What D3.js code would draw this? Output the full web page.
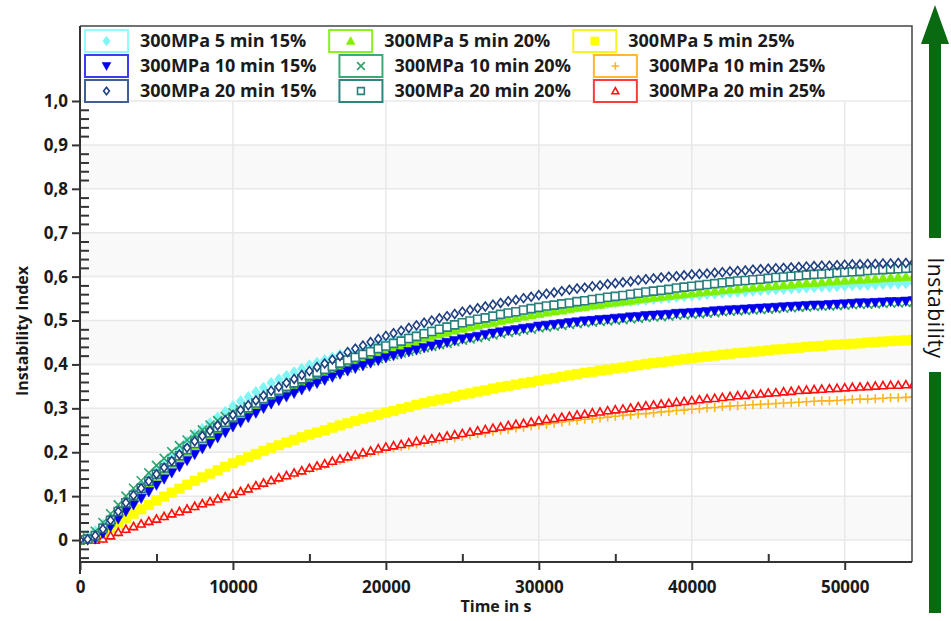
<!DOCTYPE html>
<html lang="en">
<head>
<meta charset="UTF-8">
<title>Instability Index</title>
<script src="https://cdnjs.cloudflare.com/ajax/libs/d3/7.8.5/d3.min.js"></script>
<style>
    body { margin: 0; background: #fff; }
    text { font-family: "Open Sans", "Noto Sans", sans-serif; }
</style>
</head>
<body>
<svg width="951" height="621"></svg>
<script>
    // time in s, one reading every 500 s
    const times = [
        0, 500, 1000, 1500, 2000, 2500, 3000, 3500, 4000, 4500,
        5000, 5500, 6000, 6500, 7000, 7500, 8000, 8500, 9000, 9500,
        10000, 10500, 11000, 11500, 12000, 12500, 13000, 13500, 14000, 14500,
        15000, 15500, 16000, 16500, 17000, 17500, 18000, 18500, 19000, 19500,
        20000, 20500, 21000, 21500, 22000, 22500, 23000, 23500, 24000, 24500,
        25000, 25500, 26000, 26500, 27000, 27500, 28000, 28500, 29000, 29500,
        30000, 30500, 31000, 31500, 32000, 32500, 33000, 33500, 34000, 34500,
        35000, 35500, 36000, 36500, 37000, 37500, 38000, 38500, 39000, 39500,
        40000, 40500, 41000, 41500, 42000, 42500, 43000, 43500, 44000, 44500,
        45000, 45500, 46000, 46500, 47000, 47500, 48000, 48500, 49000, 49500,
        50000, 50500, 51000, 51500, 52000, 52500, 53000, 53500, 54000, 54500];

    const s5_15 = [
        0, .010, .020, .035, .050, .070, .090, .108, .125, .143,
        .160, .176, .192, .208, .224, .240, .253, .266, .279, .292,
        .305, .316, .326, .337, .347, .358, .366, .374, .382, .390,
        .398, .404, .410, .416, .422, .428, .433, .438, .442, .447,
        .452, .456, .461, .465, .470, .474, .478, .482, .485, .489,
        .493, .496, .498, .501, .504, .507, .510, .512, .515, .517,
        .520, .522, .524, .527, .529, .531, .533, .535, .537, .539,
        .541, .543, .544, .546, .547, .549, .551, .552, .554, .555,
        .557, .558, .560, .561, .563, .564, .565, .566, .568, .569,
        .570, .571, .572, .573, .574, .575, .576, .577, .577, .578,
        .579, .580, .581, .581, .582, .583, .584, .584, .585, .586];
    const s5_20 = [
        0, .002, .008, .022, .040, .060, .080, .096, .113, .129,
        .145, .159, .173, .187, .201, .215, .227, .239, .251, .263,
        .275, .286, .296, .307, .317, .328, .336, .344, .352, .360,
        .368, .375, .382, .388, .395, .402, .408, .414, .420, .426,
        .432, .438, .443, .449, .454, .460, .464, .469, .473, .478,
        .482, .486, .489, .493, .496, .500, .503, .506, .510, .513,
        .516, .519, .522, .524, .527, .530, .532, .535, .537, .540,
        .542, .544, .546, .549, .551, .553, .555, .557, .559, .561,
        .563, .565, .567, .568, .570, .572, .573, .575, .576, .578,
        .579, .580, .582, .583, .585, .586, .587, .588, .590, .591,
        .592, .593, .594, .595, .596, .597, .598, .599, .600, .601];
    const s5_25 = [
        0, .002, .008, .018, .028, .039, .050, .060, .070, .080,
        .090, .099, .108, .117, .126, .135, .143, .151, .159, .167,
        .175, .182, .189, .196, .203, .210, .216, .222, .228, .234,
        .240, .245, .250, .256, .261, .266, .271, .276, .280, .285,
        .290, .294, .299, .303, .308, .312, .316, .320, .323, .327,
        .331, .334, .338, .341, .345, .348, .351, .354, .357, .360,
        .363, .366, .369, .372, .375, .378, .381, .383, .386, .388,
        .391, .393, .396, .398, .401, .403, .405, .407, .410, .412,
        .414, .416, .418, .420, .422, .424, .426, .427, .429, .430,
        .432, .434, .435, .437, .438, .440, .441, .442, .444, .445,
        .446, .447, .448, .450, .451, .452, .453, .454, .455, .456];
    const s10_15 = [
        0, 0, .003, .015, .030, .048, .065, .080, .095, .110,
        .125, .139, .153, .167, .181, .195, .208, .220, .233, .245,
        .258, .268, .279, .289, .300, .310, .318, .326, .334, .342,
        .350, .357, .364, .371, .378, .385, .391, .397, .403, .409,
        .415, .420, .424, .429, .433, .438, .442, .446, .450, .454,
        .458, .461, .464, .468, .471, .474, .477, .479, .482, .484,
        .487, .489, .491, .493, .495, .497, .499, .500, .502, .503,
        .505, .506, .508, .509, .511, .512, .513, .514, .516, .517,
        .518, .519, .520, .522, .523, .524, .525, .526, .527, .528,
        .529, .530, .531, .532, .533, .534, .535, .535, .536, .537,
        .538, .539, .540, .540, .541, .542, .543, .543, .544, .545];
    const s10_20 = [
        0, .005, .020, .040, .060, .080, .100, .118, .135, .153,
        .170, .186, .201, .215, .228, .240, .251, .262, .272, .281,
        .290, .297, .304, .311, .318, .325, .332, .339, .346, .353,
        .360, .366, .373, .379, .386, .392, .397, .402, .408, .413,
        .418, .422, .426, .430, .434, .438, .441, .445, .448, .452,
        .455, .458, .461, .464, .467, .470, .473, .475, .478, .480,
        .483, .485, .487, .489, .491, .493, .495, .496, .498, .499,
        .501, .502, .504, .505, .507, .508, .509, .510, .512, .513,
        .514, .515, .517, .518, .520, .521, .522, .523, .524, .525,
        .526, .527, .528, .529, .530, .531, .532, .533, .533, .534,
        .535, .536, .537, .537, .538, .539, .540, .540, .541, .542];
    const s10_25 = [
        0, 0, 0, .003, .010, .018, .025, .031, .037, .042,
        .048, .054, .060, .065, .071, .077, .083, .088, .094, .099,
        .105, .111, .117, .123, .129, .135, .140, .146, .151, .157,
        .162, .167, .172, .177, .182, .187, .191, .195, .199, .203,
        .207, .210, .213, .216, .219, .222, .225, .228, .230, .233,
        .236, .239, .242, .244, .247, .250, .252, .255, .257, .260,
        .262, .264, .266, .269, .271, .273, .275, .276, .278, .280,
        .282, .284, .285, .287, .288, .290, .292, .293, .295, .296,
        .298, .299, .301, .302, .304, .305, .306, .307, .308, .309,
        .310, .311, .312, .313, .314, .315, .316, .317, .317, .318,
        .319, .320, .321, .321, .322, .323, .324, .324, .325, .326];
    const s20_15 = [
        0, .002, .010, .025, .045, .065, .085, .102, .118, .134,
        .150, .165, .180, .195, .210, .225, .237, .249, .261, .273,
        .285, .296, .307, .318, .329, .340, .349, .358, .367, .376,
        .385, .394, .402, .411, .419, .428, .436, .443, .451, .458,
        .465, .471, .477, .483, .489, .495, .500, .505, .510, .515,
        .520, .524, .528, .532, .536, .540, .544, .547, .551, .554,
        .558, .561, .564, .567, .570, .573, .575, .578, .580, .583,
        .585, .587, .589, .592, .594, .596, .598, .600, .601, .603,
        .605, .606, .607, .609, .610, .612, .613, .614, .616, .617,
        .618, .619, .620, .621, .622, .623, .624, .625, .625, .626,
        .627, .628, .628, .629, .629, .630, .630, .631, .631, .632];
    const s20_20 = [
        0, .002, .010, .027, .045, .065, .085, .102, .118, .134,
        .150, .164, .178, .192, .206, .220, .232, .244, .256, .268,
        .280, .291, .301, .312, .322, .333, .341, .350, .358, .367,
        .375, .382, .389, .396, .403, .410, .416, .423, .429, .436,
        .442, .448, .453, .459, .464, .470, .475, .480, .485, .490,
        .495, .499, .503, .506, .510, .514, .517, .520, .524, .527,
        .530, .533, .535, .538, .540, .543, .545, .548, .550, .553,
        .555, .557, .560, .562, .565, .567, .569, .571, .574, .576,
        .578, .580, .582, .584, .586, .588, .590, .591, .593, .594,
        .596, .598, .599, .601, .602, .604, .605, .606, .607, .609,
        .610, .611, .612, .614, .615, .616, .617, .618, .619, .620];
    const s20_25 = [
        0, 0, 0, .003, .010, .018, .025, .031, .037, .043,
        .048, .054, .060, .065, .071, .077, .083, .088, .094, .099,
        .105, .111, .117, .124, .130, .136, .142, .147, .153, .158,
        .164, .169, .174, .180, .185, .190, .194, .199, .203, .208,
        .212, .215, .218, .222, .225, .228, .231, .234, .237, .240,
        .243, .246, .249, .252, .255, .258, .261, .264, .266, .269,
        .272, .275, .277, .280, .282, .285, .287, .290, .292, .295,
        .297, .299, .301, .304, .306, .308, .310, .312, .314, .316,
        .318, .320, .322, .323, .325, .327, .329, .330, .332, .333,
        .335, .336, .338, .339, .341, .342, .343, .344, .345, .346,
        .347, .348, .349, .350, .351, .352, .353, .353, .354, .355];

    const seriesNames = [
        '300MPa 5 min 15%', '300MPa 5 min 20%', '300MPa 5 min 25%',
        '300MPa 10 min 15%', '300MPa 10 min 20%', '300MPa 10 min 25%',
        '300MPa 20 min 15%', '300MPa 20 min 20%', '300MPa 20 min 25%'];
    const seriesValues = [s5_15, s5_20, s5_25, s10_15, s10_20, s10_25, s20_15, s20_20, s20_25];
    const seriesColors = ['#7ff5f5', '#80f000', '#ffff00', '#0000ee', '#2ea36a', '#ffb41e', '#1f3f80', '#2a7f7c', '#ff1010'];
    const boxColors = ['#8ffcfc', '#8cf020', '#f5f520', '#3c3cf0', '#40a878', '#ffb830', '#3f5f95', '#2f8480', '#ff3c3c'];
    const seriesMarkers = ['diamond', 'triUp', 'square', 'triDown', 'x', 'plus', 'diamondOpen', 'squareOpen', 'triOpen'];
    const drawOrder = [2, 5, 8, 0, 1, 4, 3, 7, 6];

    const xTicks = [0, 10000, 20000, 30000, 40000, 50000];
    const xTickLabels = ['0', '10000', '20000', '30000', '40000', '50000'];
    const xMidTicks = [5000, 15000, 25000, 35000, 45000];
    const yTicks = [0, 0.1, 0.2, 0.3, 0.4, 0.5, 0.6, 0.7, 0.8, 0.9, 1.0];
    const yTickLabels = ['0', '0,1', '0,2', '0,3', '0,4', '0,5', '0,6', '0,7', '0,8', '0,9', '1,0'];

    const L = 80, R = 912, T = 26, B = 562;
    const svg = d3.select('svg');
    const x = d3.scaleLinear().domain([0, 54400]).range([L, R]);
    const y = d3.scaleLinear().domain([-0.05, 1.0]).range([B, 101]);

    const markerPath = (type, r) => {
        if (type.startsWith('diamond')) return `M0,${-r * 1.1}L${r * 0.85},0L0,${r * 1.1}L${-r * 0.85},0Z`;
        if (type === 'triUp' || type === 'triOpen') return `M0,${-r}L${r},${r * 0.8}L${-r},${r * 0.8}Z`;
        if (type === 'triDown') return `M0,${r}L${r},${-r * 0.8}L${-r},${-r * 0.8}Z`;
        if (type.startsWith('square')) return `M${-r},${-r}H${r}V${r}H${-r}Z`;
        if (type === 'x') return `M${-r},${-r}L${r},${r}M${r},${-r}L${-r},${r}`;
        return `M${-r},0H${r}M0,${-r}V${r}`;
    };
    const markerRadius = type => {
        if (type.endsWith('Open')) return 4;
        if (type === 'x' || type === 'plus') return 4.5;
        if (type === 'square') return 4.8;
        return 5.2;
    };
    const styleMarker = (sel, i) => {
        const type = seriesMarkers[i];
        const filled = ['diamond', 'triUp', 'square', 'triDown'].includes(type);
        sel.attr('fill', filled ? seriesColors[i] : (type.endsWith('Open') ? '#fff' : 'none'))
            .attr('stroke', seriesColors[i])
            .attr('stroke-width', filled ? 0.5 : 1.6);
    };

    // alternating bands and grid
    const grid = svg.append('g');
    [0, 0.2, 0.4, 0.6, 0.8].forEach(v => {
        grid.append('rect')
            .attr('x', L).attr('width', R - L)
            .attr('y', y(v + 0.1)).attr('height', y(v) - y(v + 0.1))
            .attr('fill', '#f9f9f9');
    });
    grid.selectAll('line.h').data(yTicks).join('line')
        .attr('x1', L).attr('x2', R)
        .attr('y1', d => y(d)).attr('y2', d => y(d))
        .attr('stroke', '#e8e8e8').attr('stroke-width', 1.5);
    grid.selectAll('line.v').data(xTicks.slice(1)).join('line')
        .attr('x1', d => x(d)).attr('x2', d => x(d))
        .attr('y1', y(1.0)).attr('y2', B)
        .attr('stroke', '#e8e8e8').attr('stroke-width', 1.5);

    svg.append('clipPath').attr('id', 'plot')
        .append('rect').attr('x', L).attr('y', T).attr('width', R - L).attr('height', B - T);

    const marks = svg.append('g').attr('clip-path', 'url(#plot)');
    drawOrder.forEach(i => {
        marks.append('g')
            .selectAll('path')
            .data(times.map((t, k) => [t, seriesValues[i][k]]))
            .join('path')
            .attr('transform', d => `translate(${x(d[0])},${y(d[1])})`)
            .attr('d', markerPath(seriesMarkers[i], markerRadius(seriesMarkers[i])))
            .call(styleMarker, i);
    });

    // axes
    const axisColor = '#333';
    const gy = svg.append('g').attr('transform', `translate(${L},0)`)
        .call(d3.axisLeft(y).tickValues(yTicks).tickFormat((d, i) => yTickLabels[i]).tickSize(8).tickPadding(4));
    const yMinor = d3.range(-0.04, 0.99, 0.02).filter(v => Math.abs(v * 10 - Math.round(v * 10)) > 1e-6);
    const gyMinor = svg.append('g').attr('transform', `translate(${L},0)`)
        .call(d3.axisRight(y).tickValues(yMinor).tickFormat('').tickSize(9));
    const gx = svg.append('g').attr('transform', `translate(0,${B})`)
        .call(d3.axisBottom(x).tickValues(xTicks).tickFormat((d, i) => xTickLabels[i]).tickSize(8).tickPadding(11));
    const gxMid = svg.append('g').attr('transform', `translate(0,${B})`)
        .call(d3.axisTop(x).tickValues(xMidTicks).tickFormat('').tickSize(8));
    [gy, gyMinor, gx, gxMid].forEach(g => {
        g.select('.domain').remove();
        g.selectAll('.tick line').attr('stroke', axisColor).attr('stroke-width', 2);
        g.selectAll('text')
            .attr('font-size', 17).attr('font-weight', 'bold').attr('fill', '#1a1a1a')
            .style('font-family', '"Open Sans", sans-serif');
    });

    // frame
    svg.append('path')
        .attr('d', `M${L},${T}H${R}V${B}`)
        .attr('fill', 'none').attr('stroke', '#444').attr('stroke-width', 1.5);
    svg.append('line').attr('x1', L).attr('x2', L).attr('y1', T).attr('y2', 574)
        .attr('stroke', axisColor).attr('stroke-width', 2);
    svg.append('line').attr('x1', L).attr('x2', R).attr('y1', B).attr('y2', B)
        .attr('stroke', axisColor).attr('stroke-width', 2);

    // legend, laid out row by row
    const legend = svg.append('g');
    const rowY = [41, 66, 91];
    [0, 1, 2].forEach(row => {
        let cx = 85;
        [0, 1, 2].forEach(col => {
            const i = row * 3 + col;
            legend.append('rect')
                .attr('x', cx).attr('y', rowY[row] - 11)
                .attr('width', 43).attr('height', 22)
                .attr('fill', '#fff').attr('stroke', boxColors[i]).attr('stroke-width', 2);
            legend.append('path')
                .attr('transform', `translate(${cx + 21.5},${rowY[row]})`)
                .attr('d', markerPath(seriesMarkers[i], markerRadius(seriesMarkers[i]) * 0.85))
                .call(styleMarker, i);
            const label = legend.append('text')
                .attr('x', cx + 55).attr('y', rowY[row])
                .attr('dy', '0.36em')
                .attr('font-size', 18).attr('font-weight', 'bold').attr('fill', '#1a1a1a')
                .text(seriesNames[i]);
            cx += 55 + label.node().getComputedTextLength() + 23;
        });
    });

    // axis titles
    svg.append('text')
        .attr('x', (L + R) / 2).attr('y', 612)
        .attr('text-anchor', 'middle')
        .attr('font-size', 16).attr('font-weight', 'bold').attr('fill', '#1a1a1a')
        .text('Time in s');
    svg.append('text')
        .attr('transform', 'translate(28,331) rotate(-90)')
        .attr('text-anchor', 'middle')
        .attr('font-size', 16).attr('font-weight', 'bold').attr('fill', '#1a1a1a')
        .text('Instability Index');

    // instability arrow on the right
    const green = '#0a6a12';
    svg.append('path')
        .attr('d', 'M935,5 L949,44 L941,44 L941,238 L929,238 L929,44 L921,44 Z')
        .attr('fill', green);
    svg.append('rect').attr('x', 929).attr('y', 372).attr('width', 12).attr('height', 241).attr('fill', green);
    svg.append('text')
        .attr('transform', 'translate(935,308) rotate(90)')
        .attr('text-anchor', 'middle').attr('dy', '0.35em')
        .attr('font-size', 21).attr('letter-spacing', 0.6).attr('fill', '#111')
        .text('Instability');
</script>
</body>
</html>
